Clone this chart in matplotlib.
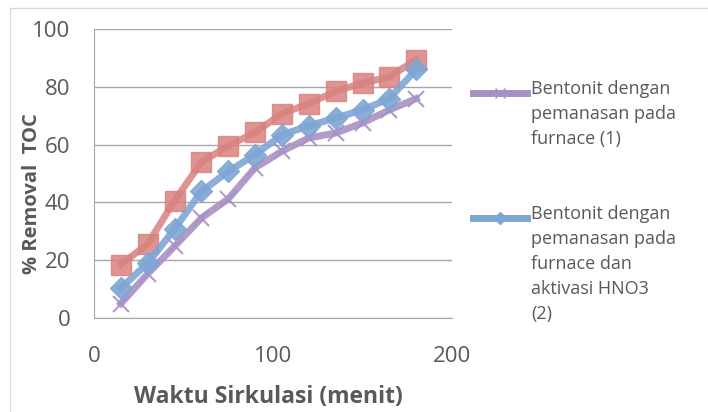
import matplotlib.pyplot as plt
import numpy as np

waktu = [15, 30, 45, 60, 75, 90, 105, 120, 135, 150, 165, 180]
furnace_1 = [5, 15.3, 24.8, 34.6, 41.2, 52, 57.7, 62.3, 64, 67.5, 72, 75.9]
furnace_hno3_2 = [10.3, 19, 30.8, 43.8, 50.7, 56.5, 63.4, 66.5, 69.2, 72, 75.9, 86]
seri_3 = [18.5, 25.6, 40.6, 53.9, 59.6, 64.2, 70.7, 74.2, 78.4, 81.3, 83.4, 89.4]

label_1 = 'Bentonit dengan\npemanasan pada\nfurnace (1)'
label_2 = 'Bentonit dengan\npemanasan pada\nfurnace dan\naktivasi HNO3\n(2)'

plt.rcParams['font.family'] = ['Open Sans', 'DejaVu Sans']

fig = plt.figure(figsize=(7.08, 4.12), dpi=100)
ax = fig.add_axes([94/708, 1-318/412, (452-94)/708, (318-29)/412])

ax.plot(waktu, seri_3, color='#d9827f', lw=5, marker='s', ms=14, alpha=0.85, zorder=3)
ax.plot(waktu, furnace_hno3_2, color='#7ea6d4', lw=5, marker='D', ms=11, alpha=0.9, zorder=4)
ax.plot(waktu, furnace_1, color='#a890c4', lw=5, marker='x', ms=12, mew=1.5, alpha=0.9, zorder=2)

ax.set_xlim(0, 200)
ax.set_ylim(0, 100)
ax.set_xticks([0, 100, 200])
ax.set_yticks([0, 20, 40, 60, 80, 100])
ax.grid(axis='y', color='#a6a6a6', lw=1)
ax.set_axisbelow(True)
for s in ['top', 'right']:
    ax.spines[s].set_visible(False)
for s in ['left', 'bottom']:
    ax.spines[s].set_color('#a6a6a6')
ax.tick_params(length=0, labelsize=16, labelcolor='#595959')
ax.tick_params(axis='y', pad=17)
ax.tick_params(axis='x', pad=20)
ax.set_xlabel('Waktu Sirkulasi (menit)', fontsize=16.5, fontweight='bold', color='#595959')
ax.set_ylabel('% Removal  TOC', fontsize=14.5, fontweight='bold', color='#595959')
ax.xaxis.set_label_coords(0.486, -0.232)
ax.yaxis.set_label_coords(-0.145, 0.43)

# legend drawn by hand (only two entries in the original)
fig.lines.append(plt.Line2D([473/708, 527/708], [1-93/412]*2, color='#a890c4', lw=5, transform=fig.transFigure))
fig.lines.append(plt.Line2D([500/708], [1-93/412], color='#a890c4', marker='x', ms=7, transform=fig.transFigure))
fig.lines.append(plt.Line2D([473/708, 527/708], [1-218/412]*2, color='#7ea6d4', lw=5, transform=fig.transFigure))
fig.lines.append(plt.Line2D([500/708], [1-218/412], color='#7ea6d4', marker='D', ms=6, transform=fig.transFigure))
fig.text(531/708, 1-80/412, label_1, fontsize=13, color='#595959', va='top', linespacing=1.5)
fig.text(531/708, 1-205/412, label_2, fontsize=13, color='#595959', va='top', linespacing=1.5)

# outer chart frame
fig.patches.append(plt.Rectangle((10/708, -0.1), 1.1, 1-8/412+0.1, fill=False, ec='#d9d9d9', lw=1, transform=fig.transFigure))

plt.savefig('out.png', dpi=100)
